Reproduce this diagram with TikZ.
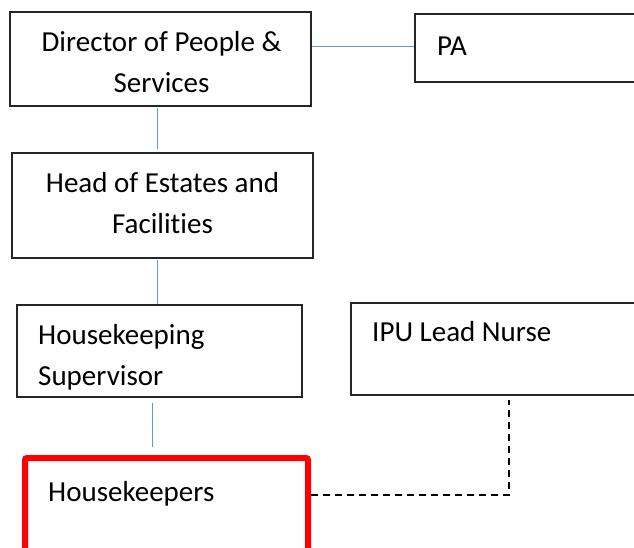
\documentclass[tikz,border=0pt]{standalone}
\usepackage{fontspec}
\setmainfont{Carlito}[Ligatures={NoCommon,NoContextual},Contextuals={NoAlternate}]
\usetikzlibrary{calc}
\definecolor{connblue}{HTML}{5B9BD5}
\definecolor{boxred}{HTML}{FF0000}
\begin{document}
\begin{tikzpicture}[x=1pt,y=-1pt,
  box/.style={draw=black!85, line width=1.2pt, rectangle, inner sep=0pt},
  redbox/.style={draw=boxred, line width=6pt, rectangle, rounded corners=2pt, inner sep=0pt},
  txt/.style={font=\fontsize{29}{41}\selectfont, inner sep=0pt, text=black},
  conn/.style={draw=connblue, line width=1pt},
  dashconn/.style={draw=black, line width=1.4pt, dash pattern=on 7pt off 5pt}]
\useasboundingbox (0,0) rectangle (634,547);
\clip (0,0) rectangle (634,547);
% boxes
\node[box, minimum width=301pt, minimum height=94pt] (dir) at (160.5,59) {};
\node[box, minimum width=240pt, minimum height=68pt] (pa) at (535,48) {};
\node[box, minimum width=301pt, minimum height=105pt] (head) at (162.5,205.5) {};
\node[box, minimum width=285pt, minimum height=92pt] (hks) at (159.5,351) {};
\node[box, minimum width=300pt, minimum height=92pt] (ipu) at (501,349) {};
\node[redbox, minimum width=283pt, minimum height=140pt] (hk) at (166.5,528) {};
% texts
\node[txt, anchor=base, align=center] (dirT) at (161.5,92) {Director of People \&\\Services};
\node[txt, anchor=base west] (paT) at (437,55) {PA};
\node[txt, anchor=base, align=center] (headT) at (162.5,233) {Head of Estates and\\Facilities};
\node[txt, anchor=base west, align=left] (hksT) at (38,385) {Housekeeping\\Supervisor};
\node[txt, anchor=base west] (ipuT) at (372,341) {IPU Lead Nurse};
\node[txt, anchor=base west] (hkT) at (48,501) {Housekeepers};
% connectors
\coordinate (c1) at ($(dir.south)+(-3.5,1)$);
\coordinate (c2) at ($(head.north)+(-5.5,-3)$);
\coordinate (c3) at ($(head.south)+(-5.5,1)$);
\coordinate (c4) at ($(hks.north)+(-2.5,0)$);
\coordinate (c5) at ($(hks.south)+(-7.5,5)$);
\coordinate (c6) at ($(hk.north)+(-14.5,-8)$);
\coordinate (bend) at (509,495);
\coordinate (ipuEnd) at (509,400);
\draw[conn] (dir.east |- 0,46) -- (pa.west |- 0,46);
\draw[conn] (c1) -- (c2);
\draw[conn] (c3) -- (c4);
\draw[conn] (c5) -- (c6);
\draw[dashconn] (hk.east |- bend) -- (bend) -- (ipuEnd);
\end{tikzpicture}
\end{document}
